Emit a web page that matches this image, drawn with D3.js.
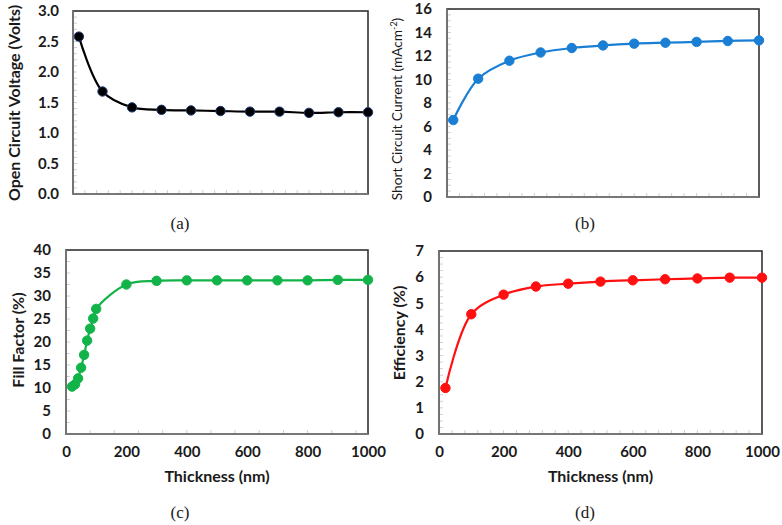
<!DOCTYPE html>
<html><head><meta charset="utf-8">
<script src="https://cdn.jsdelivr.net/npm/d3@7"></script>
<style>
html,body{margin:0;padding:0;background:#fff;}
svg{display:block;}
</style></head>
<body>
<svg id="chart" width="782" height="525"></svg>
<script>
// ---- data ----
const thickness = [20,100,200,300,400,500,600,700,800,900,1000];
const vocValues = [2.58,1.68,1.42,1.38,1.37,1.36,1.35,1.35,1.33,1.34,1.34];
const jscValues = [6.55,10.07,11.6,12.3,12.68,12.9,13.05,13.13,13.2,13.28,13.33];
const ffThickness = [20,30,40,50,60,70,80,90,100,200,300,400,500,600,700,800,900,1000];
const ffValues = [10.3,10.8,12.1,14.4,17.2,20.3,22.9,25.1,27.2,32.5,33.3,33.4,33.4,33.4,33.4,33.4,33.5,33.5];
const effValues = [1.76,4.58,5.33,5.64,5.75,5.83,5.88,5.92,5.95,5.98,5.98];
const xTicks = [0,200,400,600,800,1000];
const vocTicks = [0,0.5,1.0,1.5,2.0,2.5,3.0];
const jscTicks = [0,2,4,6,8,10,12,14,16];
const ffTicks = [0,5,10,15,20,25,30,35,40];
const effTicks = [0,1,2,3,4,5,6,7];
const panelLabels = ["(a)","(b)","(c)","(d)"];

const svg = d3.select("#chart");
const FONT = "Lato, 'Open Sans', sans-serif";

function panel(cfg){
  const g = svg.append("g");
  const x = d3.scaleLinear().domain([0,1000]).range([cfg.left,cfg.right]);
  const y = d3.scaleLinear().domain([0,cfg.ymax]).range([cfg.bottom,cfg.top]);

  // minor ticks
  const yMinor = d3.range(0, cfg.ymax+1e-9, cfg.yMinor);
  g.selectAll(".ym").data(yMinor).join("line")
    .attr("x1",cfg.left).attr("x2",cfg.left+4)
    .attr("y1",d=>y(d)).attr("y2",d=>y(d))
    .attr("stroke","#d0d0d0").attr("stroke-width",1);
  const xMinor = d3.range(0, 1000+1e-9, cfg.xMinor);
  g.selectAll(".xm").data(xMinor).join("line")
    .attr("x1",d=>x(d)).attr("x2",d=>x(d))
    .attr("y1",cfg.bottom).attr("y2",cfg.bottom-4)
    .attr("stroke","#d0d0d0").attr("stroke-width",1);

  // frame
  g.append("rect").attr("x",cfg.left).attr("y",cfg.top)
    .attr("width",cfg.right-cfg.left).attr("height",cfg.bottom-cfg.top)
    .attr("fill","none").attr("stroke","#333").attr("stroke-width",1.6);
  g.append("line").attr("x1",cfg.left).attr("x2",cfg.left).attr("y1",cfg.top).attr("y2",cfg.bottom)
    .attr("stroke","#777").attr("stroke-width",1.8);
  g.append("line").attr("x1",cfg.left).attr("x2",cfg.right).attr("y1",cfg.bottom).attr("y2",cfg.bottom)
    .attr("stroke","#777").attr("stroke-width",1.8);

  // y tick labels via axis
  const yAxis = d3.axisLeft(y).tickValues(cfg.yTicks).tickFormat(cfg.yFmt).tickSize(0).tickPadding(cfg.yPad);
  const ya = g.append("g").attr("transform",`translate(${cfg.left},0)`).call(yAxis);
  ya.select(".domain").remove();
  ya.selectAll("text").attr("font-family",FONT).attr("font-weight","bold")
    .attr("font-size",15).attr("fill","#1a1a1a");

  if(cfg.showX){
    const xAxis = d3.axisBottom(x).tickValues(xTicks).tickFormat(d3.format("d")).tickSize(0).tickPadding(12);
    const xa = g.append("g").attr("transform",`translate(0,${cfg.bottom})`).call(xAxis);
    xa.select(".domain").remove();
    xa.selectAll("text").attr("font-family",FONT).attr("font-weight","bold")
      .attr("font-size",15).attr("fill","#1a1a1a");
    g.append("text").attr("x",(cfg.left+cfg.right)/2).attr("y",cfg.bottom+48)
      .attr("text-anchor","middle").attr("font-family",FONT).attr("font-weight","bold")
      .attr("font-size",16).attr("fill","#1a1a1a").text("Thickness (nm)");
  }

  // y title
  const yt = g.append("text")
    .attr("transform",`translate(${cfg.ytX},${cfg.ytY}) rotate(-90)`)
    .attr("text-anchor","middle").attr("font-family",FONT)
    .attr("font-weight",cfg.ytWeight).attr("font-size",cfg.ytSize).attr("fill","#1a1a1a");
  if(cfg.ytSup){
    yt.append("tspan").text(cfg.yTitle);
    yt.append("tspan").attr("font-size",cfg.ytSize*0.65).attr("dy",-5).text(cfg.ytSup);
    yt.append("tspan").attr("dy",5).text(")");
  } else {
    yt.text(cfg.yTitle);
  }

  // line + markers
  const pts = cfg.xs.map((d,i)=>[d,cfg.ys[i]]);
  const line = d3.line().x(d=>x(d[0])).y(d=>y(d[1])).curve(d3.curveCatmullRom.alpha(0.5));
  g.append("path").attr("d",line(pts)).attr("fill","none")
    .attr("stroke",cfg.lineColor).attr("stroke-width",2.2);
  g.selectAll(".pt").data(pts).join("circle")
    .attr("cx",d=>x(d[0])).attr("cy",d=>y(d[1])).attr("r",4.7)
    .attr("fill",cfg.fill).attr("stroke",cfg.markStroke).attr("stroke-width",1);

  // panel label
  g.append("text").attr("x",cfg.labX).attr("y",cfg.labY).attr("text-anchor","middle")
    .attr("font-family","'Liberation Serif','DejaVu Serif',serif").attr("font-size",17)
    .attr("fill","#1a1a1a").text(cfg.label);
}

panel({left:73,right:368,top:11,bottom:194,ymax:3,yTicks:vocTicks,yFmt:d3.format(".1f"),yPad:14,
  yMinor:0.1,xMinor:40,showX:false,
  ytX:20,ytY:103,yTitle:"Open Circuit Voltage (Volts)",ytWeight:"bold",ytSize:16,
  xs:thickness,ys:vocValues,lineColor:"#000",fill:"#000",markStroke:"#1f3a78",
  label:panelLabels[0],labX:180,labY:229});

panel({left:447,right:759,top:9,bottom:197,ymax:16,yTicks:jscTicks,yFmt:d3.format("d"),yPad:15,
  yMinor:0.5,xMinor:40,showX:false,
  ytX:402,ytY:109,yTitle:"Short Circuit Current (mAcm",ytSup:"-2",ytWeight:"normal",ytSize:13.7,
  xs:thickness,ys:jscValues,lineColor:"#1a7fd4",fill:"#1a7fd4",markStroke:"#1a7fd4",
  label:panelLabels[1],labX:585,labY:229});

panel({left:66,right:368,top:250,bottom:434,ymax:40,yTicks:ffTicks,yFmt:d3.format("d"),yPad:15,
  yMinor:2.5,xMinor:80,showX:true,
  ytX:24,ytY:340,yTitle:"Fill Factor (%)",ytWeight:"bold",ytSize:16,
  xs:ffThickness,ys:ffValues,lineColor:"#12b44a",fill:"#12b44a",markStroke:"#12b44a",
  label:panelLabels[2],labX:180,labY:518});

panel({left:439,right:762,top:251,bottom:434,ymax:7,yTicks:effTicks,yFmt:d3.format("d"),yPad:15,
  yMinor:0.25,xMinor:40,showX:true,
  ytX:405,ytY:333,yTitle:"Efficiency (%)",ytWeight:"bold",ytSize:16,
  xs:thickness,ys:effValues,lineColor:"#ff1010",fill:"#ff1010",markStroke:"#ff1010",
  label:panelLabels[3],labX:585,labY:518});
</script>
</body></html>
